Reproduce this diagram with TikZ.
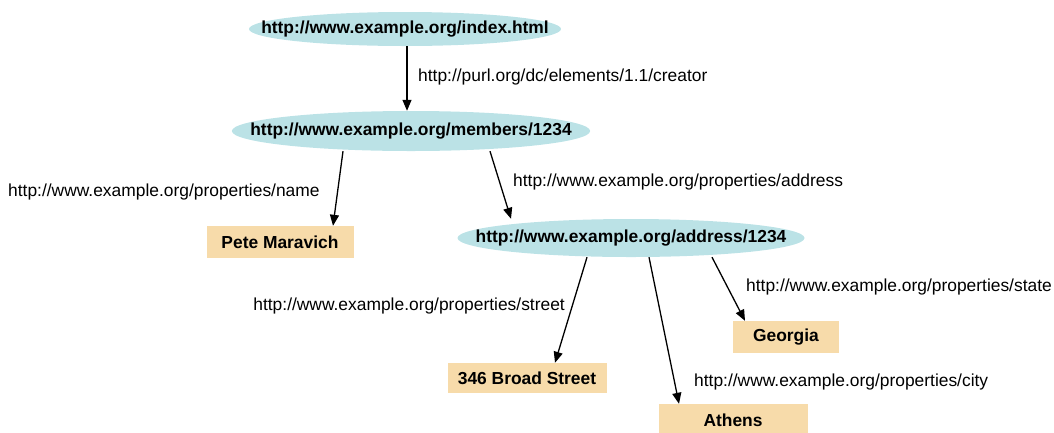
\documentclass[tikz,border=0pt]{standalone}
\usepackage{fontspec}
\newfontfamily\rdffont{Liberation Sans}
\usetikzlibrary{shapes.geometric, arrows.meta}
\definecolor{uriblue}{RGB}{187,226,230}
\definecolor{litwheat}{RGB}{247,219,170}
\begin{document}
\begin{tikzpicture}[x=1pt, y=-1pt,
    uri/.style={ellipse, fill=uriblue, inner xsep=-34pt, inner ysep=3pt, font=\rdffont\fontsize{17.4}{19}\selectfont\bfseries},
    lit/.style={rectangle, fill=litwheat, inner sep=0pt, font=\rdffont\fontsize{17.4}{19}\selectfont\bfseries},
    prop/.style={inner sep=0pt, font=\rdffont\fontsize{17.4}{19}\selectfont},
    arrow/.style={-{Triangle[length=11pt, width=9pt]}, line width=1.3pt}
]
    \useasboundingbox (0,0) rectangle (1054,432);

    % Resources
    \node[uri, minimum width=312pt, minimum height=34pt] (index) at (405,29) {http://www.example.org/index.html};
    \node[uri, minimum width=347pt, minimum height=40pt] (member) at (411,131) {http://www.example.org/members/1234};
    \node[uri, minimum width=347pt, minimum height=38pt] (addr) at (631,238) {http://www.example.org/address/1234};

    % Literals
    \node[lit, minimum width=147pt, minimum height=32pt] (pete) at (280,242) {Pete Maravich};
    \node[lit, minimum width=159pt, minimum height=30pt] (street) at (527,378) {346 Broad Street};
    \node[lit, minimum width=106pt, minimum height=32pt] (georgia) at (786,337) {Georgia};
    \node[lit, minimum width=149pt, minimum height=32pt] (athens) at (733,420) {Athens};

    % Properties
    \node[prop, anchor=west] (pcreator) at (418,77) {http://purl.org/dc/elements/1.1/creator};
    \node[prop, anchor=west] (pname) at (8,192) {http://www.example.org/properties/name};
    \node[prop, anchor=west] (paddr) at (513,182) {http://www.example.org/properties/address};
    \node[prop, anchor=east] (pstreet) at (565,306) {http://www.example.org/properties/street};
    \node[prop, anchor=west] (pstate) at (746,287) {http://www.example.org/properties/state};
    \node[prop, anchor=west] (pcity) at (694,382) {http://www.example.org/properties/city};

    % Arrows
    \draw[arrow] ([xshift=2pt]index.south) -- ([xshift=-4pt]member.north);
    \draw[arrow] ([xshift=-68pt]member.south) -- ([xshift=53pt]pete.north);
    \draw[arrow] ([xshift=79pt]member.south) -- ([xshift=-120pt]addr.north);
    \draw[arrow] ([xshift=-44pt]addr.south) -- ([xshift=28pt]street.north);
    \draw[arrow] ([xshift=18pt]addr.south) -- ([xshift=-54pt]athens.north);
    \draw[arrow] ([xshift=81pt]addr.south) -- ([xshift=-41pt]georgia.north);
\end{tikzpicture}
\end{document}
